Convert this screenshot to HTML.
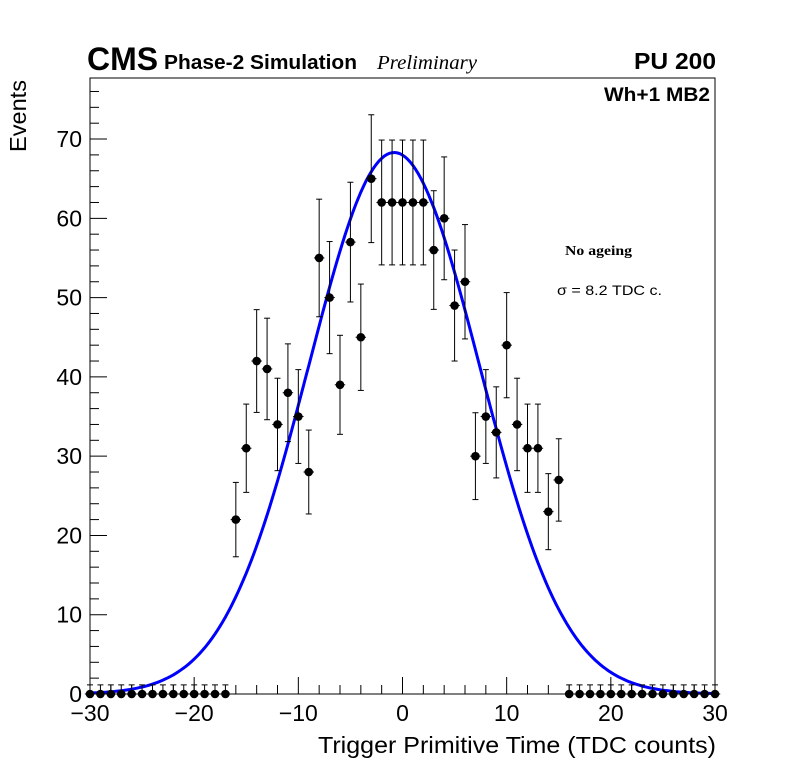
<!DOCTYPE html>
<html><head><meta charset="utf-8"><style>
body{margin:0;background:#fff}
svg text{font-family:"Liberation Sans",sans-serif}
</style></head><body>
<svg id="c" width="796" height="772" xmlns="http://www.w3.org/2000/svg">
<rect width="796" height="772" fill="#fff"/>
<g id="frame"></g>
<text x="87" y="70" font-size="32" font-weight="bold" textLength="71" lengthAdjust="spacingAndGlyphs">CMS</text>
<text x="164" y="69" font-size="20" font-weight="bold" textLength="193" lengthAdjust="spacingAndGlyphs">Phase-2 Simulation</text>
<text x="377" y="69" font-size="20" font-style="italic" textLength="100" lengthAdjust="spacingAndGlyphs" style="font-family:'Liberation Serif',serif">Preliminary</text>
<text x="634" y="69" font-size="23" font-weight="bold" textLength="82" lengthAdjust="spacingAndGlyphs">PU 200</text>
<text x="604" y="101" font-size="19" font-weight="bold" textLength="106" lengthAdjust="spacingAndGlyphs">Wh+1 MB2</text>
<text x="565" y="255" font-size="14" font-weight="bold" textLength="67" lengthAdjust="spacingAndGlyphs" style="font-family:'Liberation Serif',serif">No ageing</text>
<text x="557" y="295" font-size="14" textLength="105" lengthAdjust="spacingAndGlyphs">σ = 8.2 TDC c.</text>
<text x="318" y="753" font-size="23" textLength="398" lengthAdjust="spacingAndGlyphs">Trigger Primitive Time (TDC counts)</text>
<text transform="translate(26,152) rotate(-90)" font-size="23" textLength="72" lengthAdjust="spacingAndGlyphs">Events</text>
</svg>
<script>
const categories=[];for(let i=-30;i<=30;i++)categories.push(i);
const counts=[0,0,0,0,0,0,0,0,0,0,0,0,0,0,22,31,42,41,34,38,35,28,55,50,39,57,45,65,62,62,62,62,62,56,60,49,52,30,35,33,44,34,31,31,23,27,0,0,0,0,0,0,0,0,0,0,0,0,0,0,0];
const fitMean=[-0.8];const fitSigma=[8.2];const fitAmp=[68.3];
const xTicks=[-30,-20,-10,0,10,20,30];
const yTicks=[0,10,20,30,40,50,60,70];
const L=90,R=715,T=78,B=694,X0=-30,X1=30,Y0=0,Y1=77.7;
const sx=v=>L+(v-X0)/(X1-X0)*(R-L);
const sy=v=>B-(v-Y0)/(Y1-Y0)*(B-T);
const svg=document.getElementById('c'),g=document.getElementById('frame');
const NS='http://www.w3.org/2000/svg';
function mk(t,a,p){const e=document.createElementNS(NS,t);for(const k in a)e.setAttribute(k,a[k]);(p||g).appendChild(e);return e;}
let fr=mk('rect',{x:L,y:T,width:R-L,height:B-T,fill:'none',stroke:'#000','stroke-width':1});


for(let v=-30;v<=30;v+=2){const maj=v%10===0;mk('line',{x1:sx(v),x2:sx(v),y1:B,y2:B-(maj?17:9),stroke:'#000'});}
for(let v=0;v<=76;v+=2){const maj=v%10===0;mk('line',{x1:L,x2:L+(maj?17:9),y1:sy(v),y2:sy(v),stroke:'#000'});}
xTicks.forEach(v=>{const t=mk('text',{x:sx(v),y:721,'font-size':23,'text-anchor':'middle'});t.textContent=(v<0?'\u2212'+(-v):v);

});
yTicks.forEach(v=>{const t=mk('text',{x:82,y:sy(v)+8,'font-size':23,'text-anchor':'end'});t.textContent=v;

});
let d='';for(let x=-30;x<=30.001;x+=0.25){const y=fitAmp[0]*Math.exp(-0.5*Math.pow((x-fitMean[0])/fitSigma[0],2));d+=(d?'L':'M')+sx(x).toFixed(1)+','+sy(y).toFixed(1);}
const c=mk('path',{d:d,fill:'none',stroke:'#0000ff','stroke-width':3});


categories.forEach((x,i)=>{const n=counts[i];const e=n>0?Math.sqrt(n):1.15;const px=sx(x),py=sy(n);
const gg=mk('g',{});


const lo=n>0?sy(n-e):py;
mk('line',{x1:px,x2:px,y1:sy(n+e),y2:lo,stroke:'#000'},gg);
mk('line',{x1:px-3,x2:px+3,y1:sy(n+e),y2:sy(n+e),stroke:'#000'},gg);
if(n>0)mk('line',{x1:px-3,x2:px+3,y1:lo,y2:lo,stroke:'#000'},gg);
mk('line',{x1:sx(x-0.5),x2:sx(x+0.5),y1:py,y2:py,stroke:'#000'},gg);
mk('circle',{cx:px,cy:py,r:4.3,fill:'#000'},gg);});
</script>
</body></html>
